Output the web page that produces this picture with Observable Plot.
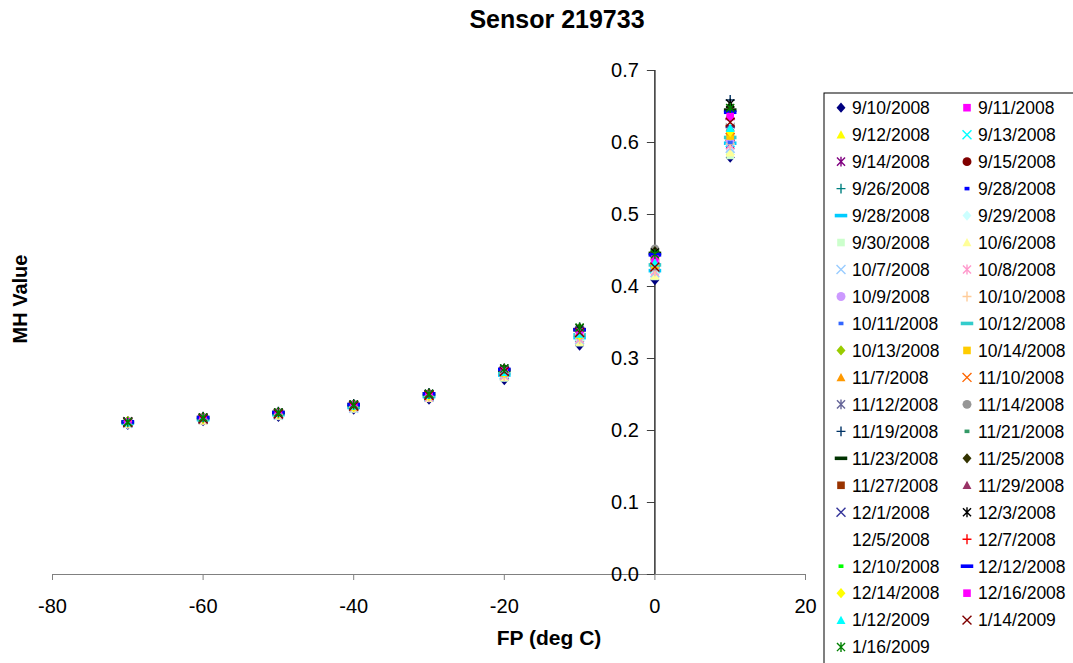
<!DOCTYPE html>
<html>
<head>
<meta charset="utf-8">
<script src="https://cdn.jsdelivr.net/npm/d3@7"></script>
<script src="https://cdn.jsdelivr.net/npm/@observablehq/plot@0.6"></script>
<style>
  html, body { margin: 0; padding: 0; background: #fff; overflow: hidden; }
  #wrap { position: relative; width: 1073px; height: 663px; font-family: "Liberation Sans", Arial, sans-serif; }
  #chart { position: absolute; left: 0; top: 0; }
  .lbl { position: absolute; font-weight: bold; color: #000; white-space: nowrap; }
  #title { left: 557px; top: 5px; transform: translateX(-50%); font-size: 25px; }
  #xlabel { left: 549px; top: 626px; transform: translateX(-50%); font-size: 21px; }
  #ylabel { left: 20px; top: 299px; transform: translate(-50%, -50%) rotate(-90deg); font-size: 20px; }
  #legend { position: absolute; left: 823px; top: 92px; }
</style>
</head>
<body>
<div id="wrap">
  <div id="chart"></div>
  <div id="title" class="lbl">Sensor 219733</div>
  <div id="xlabel" class="lbl">FP (deg C)</div>
  <div id="ylabel" class="lbl">MH Value</div>
  <div id="legend"></div>
</div>
<script>
// ---- data ----
const fp = [-70, -60, -50, -40, -30, -20, -10, 0, 10];
const dates = ["9/10/2008","9/11/2008","9/12/2008","9/13/2008","9/14/2008","9/15/2008","9/26/2008","9/28/2008","9/28/2008","9/29/2008",
  "9/30/2008","10/6/2008","10/7/2008","10/8/2008","10/9/2008","10/10/2008","10/11/2008","10/12/2008","10/13/2008","10/14/2008",
  "11/7/2008","11/10/2008","11/12/2008","11/14/2008","11/19/2008","11/21/2008","11/23/2008","11/25/2008","11/27/2008","11/29/2008",
  "12/1/2008","12/3/2008","12/5/2008","12/7/2008","12/10/2008","12/12/2008","12/14/2008","12/16/2008","1/12/2009","1/14/2009","1/16/2009"];
// MH value of each series (in the order of dates) at each FP
const mhAtM70 = [.208,.210,.209,.210,.210,.211,.211,.210,.210,.209,.209,.209,.210,.210,.211,.210,.210,.211,.211,.211,.211,.212,.212,.212,.213,.212,.212,.213,.212,.211,.212,.212,.211,.212,.212,.212,.213,.212,.211,.211,.212];
const mhAtM60 = [.213,.215,.214,.216,.215,.216,.216,.215,.215,.214,.214,.214,.215,.215,.216,.215,.215,.216,.216,.216,.217,.217,.217,.218,.219,.217,.218,.218,.217,.217,.217,.218,.216,.217,.217,.218,.216,.217,.217,.216,.218];
const mhAtM50 = [.219,.222,.221,.222,.222,.223,.223,.222,.222,.221,.220,.221,.221,.222,.223,.222,.222,.223,.223,.223,.224,.224,.224,.225,.226,.224,.225,.225,.224,.224,.224,.225,.223,.224,.224,.225,.223,.224,.224,.223,.225];
const mhAtM40 = [.229,.232,.231,.233,.232,.233,.233,.232,.232,.231,.230,.231,.231,.232,.233,.232,.232,.233,.234,.233,.234,.234,.235,.236,.237,.235,.236,.236,.235,.234,.235,.236,.234,.235,.235,.236,.233,.235,.234,.234,.236];
const mhAtM30 = [.243,.247,.245,.247,.247,.248,.248,.247,.247,.246,.245,.245,.246,.246,.248,.247,.247,.248,.249,.248,.249,.249,.250,.251,.252,.250,.251,.251,.250,.249,.250,.251,.249,.250,.250,.251,.248,.250,.249,.249,.251];
const mhAtM20 = [.270,.277,.274,.278,.277,.279,.279,.278,.277,.275,.273,.274,.276,.276,.279,.277,.278,.280,.281,.280,.281,.282,.283,.285,.286,.284,.284,.286,.283,.282,.283,.286,.282,.283,.284,.285,.280,.283,.281,.282,.286];
const mhAtM10 = [.318,.328,.324,.330,.329,.331,.332,.330,.329,.325,.322,.323,.326,.327,.331,.328,.330,.333,.334,.333,.335,.336,.338,.341,.343,.339,.340,.342,.337,.336,.338,.342,.335,.337,.339,.340,.332,.337,.334,.336,.343];
const mhAt0   = [.409,.420,.416,.425,.423,.426,.428,.424,.422,.418,.414,.415,.419,.421,.427,.422,.425,.430,.432,.429,.434,.436,.440,.452,.448,.443,.446,.449,.439,.437,.441,.447,.435,.438,.442,.444,.431,.438,.433,.427,.445];
const mhAt10  = [.579,.594,.588,.600,.597,.603,.605,.601,.599,.590,.582,.586,.592,.596,.604,.598,.600,.607,.612,.609,.615,.618,.622,.625,.659,.640,.645,.650,.632,.628,.626,.654,.630,.633,.638,.642,.615,.636,.620,.628,.648];
const mhColumns = [mhAtM70, mhAtM60, mhAtM50, mhAtM40, mhAtM30, mhAtM20, mhAtM10, mhAt0, mhAt10];
const xTicks = [-80, -60, -40, -20, 0, 20];
const yTicks = [0, 0.1, 0.2, 0.3, 0.4, 0.5, 0.6, 0.7];

// ---- marker styles (Excel default cycle) ----
const shapeCycle = ["diamond","square","triangle","x","star","circle","plus","shortDash","longDash"];
const colors = ["#000080","#FF00FF","#FFFF00","#00FFFF","#800080","#800000","#008080","#0000FF","#00CCFF","#CCFFFF",
  "#CCFFCC","#FFFF99","#99CCFF","#FF99CC","#CC99FF","#FFCC99","#3366FF","#33CCCC","#99CC00","#FFCC00",
  "#FF9900","#FF6600","#666699","#969696","#003366","#339966","#003300","#333300","#993300","#993366",
  "#333399","#000000","#FFFFFF","#FF0000","#00FF00","#0000FF","#FFFF00","#FF00FF","#00FFFF","#800000","#008000"];

function sym(fn) { return { draw(ctx, size) { fn(ctx, Math.sqrt(size / Math.PI)); } }; }
const symbols = {
  diamond: sym((c, s) => { c.moveTo(0, -1.15 * s); c.lineTo(s, 0); c.lineTo(0, 1.15 * s); c.lineTo(-s, 0); c.closePath(); }),
  square: sym((c, s) => { c.rect(-0.85 * s, -0.85 * s, 1.7 * s, 1.7 * s); }),
  triangle: sym((c, s) => { c.moveTo(0, -s); c.lineTo(s, 0.85 * s); c.lineTo(-s, 0.85 * s); c.closePath(); }),
  x: sym((c, s) => { c.moveTo(-s, -s); c.lineTo(s, s); c.moveTo(-s, s); c.lineTo(s, -s); }),
  star: sym((c, s) => { c.moveTo(-0.9 * s, -0.9 * s); c.lineTo(0.9 * s, 0.9 * s); c.moveTo(-0.9 * s, 0.9 * s); c.lineTo(0.9 * s, -0.9 * s); c.moveTo(0, -1.1 * s); c.lineTo(0, 1.1 * s); }),
  circle: sym((c, s) => { c.moveTo(s, 0); c.arc(0, 0, s, 0, 2 * Math.PI); }),
  plus: sym((c, s) => { c.moveTo(-s, 0); c.lineTo(s, 0); c.moveTo(0, -1.1 * s); c.lineTo(0, 1.1 * s); }),
  shortDash: sym((c, s) => { c.rect(-0.55 * s, -0.4 * s, 1.1 * s, 0.8 * s); }),
  longDash: sym((c, s) => { c.rect(-1.4 * s, -0.4 * s, 2.8 * s, 0.8 * s); })
};
const stroked = new Set(["x", "star", "plus"]);

const series = dates.map((d, i) => ({
  date: d,
  shape: shapeCycle[i % shapeCycle.length],
  color: colors[i],
  points: fp.map((t, j) => ({ date: d, fp: t, mh: mhColumns[j][i] }))
}));

const dotMarks = series.map(s => Plot.dot(s.points, {
  x: "fp", y: "mh", r: 4.5,
  symbol: symbols[s.shape],
  fill: stroked.has(s.shape) ? "none" : s.color,
  stroke: stroked.has(s.shape) ? s.color : "none",
  strokeWidth: 1.4
}));

const chart = Plot.plot({
  width: 822,
  height: 663,
  marginLeft: 52,
  marginRight: 17,
  marginTop: 70,
  marginBottom: 89,
  style: { fontFamily: "Liberation Sans, Arial, sans-serif", background: "#fff", overflow: "visible" },
  x: { domain: [-80, 20] },
  y: { domain: [0, 0.7], axis: null },
  marks: [
    Plot.axisX({ ticks: xTicks, tickSize: 6, tickPadding: 18, fontSize: 20, stroke: "#808080", fill: "#000", label: null, tickFormat: d => String(d).replace("−", "-") }),
    Plot.ruleY([0], { stroke: "#808080", strokeWidth: 1.2 }),
    Plot.ruleY(yTicks, { y: d => d, x1: 0, x2: -1, stroke: "#404040", strokeWidth: 1 }),
    Plot.text(yTicks, { x: 0, y: d => d, text: d => d.toFixed(1), textAnchor: "end", dx: -16, fontSize: 20, fill: "#000" }),
    Plot.ruleX([0], { y1: 0, y2: 0.7, stroke: "#000", strokeWidth: 1.2 }),
    ...dotMarks
  ]
});
document.getElementById("chart").appendChild(chart);

// ---- legend ----
const legendW = 300, legendH = 620;
const lsvg = d3.select("#legend").append("svg")
  .attr("width", legendW).attr("height", legendH)
  .style("font-family", "Liberation Sans, Arial, sans-serif");
lsvg.append("rect").attr("x", 1).attr("y", 1).attr("width", legendW).attr("height", legendH)
  .attr("fill", "#fff").attr("stroke", "#000").attr("stroke-width", 1);
const rowY = i => 15.7 + Math.floor(i / 2) * 26.97;
const colX = i => (i % 2 === 0 ? 18 : 144);
series.forEach((s, i) => {
  const g = lsvg.append("g").attr("transform", `translate(${colX(i)},${rowY(i)})`);
  g.append("path")
    .attr("d", d3.symbol().type(symbols[s.shape]).size(Math.PI * 20)())
    .attr("fill", stroked.has(s.shape) ? "none" : s.color)
    .attr("stroke", stroked.has(s.shape) ? s.color : "none")
    .attr("stroke-width", 1.4);
  g.append("text").attr("x", 11).attr("y", 0).attr("dy", "0.36em")
    .attr("font-size", 17.5).attr("fill", "#000").text(s.date);
});
</script>
</body>
</html>
